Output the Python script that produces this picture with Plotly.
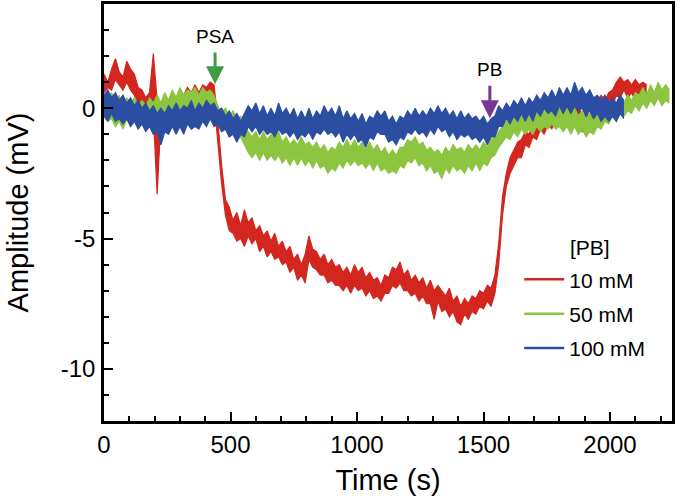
import plotly.graph_objects as go

T_STEP = 15

red_10mM_upper = [1.3, 1.0, 1.5, 1.9, 1.4, 1.2, 1.8, 1.5, 1.3, 0.8, 0.7, 0.4, 0.6, 2.1, 0.3,
                  0.2, 0.4, 0.2, 0.6, 0.4, 0.7, 0.5, 0.8, 0.6, 0.9, 0.6, 0.9, 0.8, 1.0, 0.9,
                  -0.5, -2.2, -3.5, -3.8, -4.3, -4.0, -4.5, -3.9, -4.4, -4.2, -4.7, -4.5, -4.9, -4.7, -5.1,
                  -4.8, -5.3, -5.1, -5.5, -5.3, -5.8, -5.6, -6.0, -5.6, -4.9, -5.4, -5.5, -5.8, -5.6, -6.0,
                  -5.8, -6.1, -6.0, -6.3, -6.1, -6.4, -6.0, -6.3, -6.1, -6.5, -6.3, -6.6, -6.5, -6.8, -6.4,
                  -6.5, -6.1, -6.2, -5.9, -6.4, -6.2, -6.6, -6.4, -6.7, -6.5, -6.9, -6.6, -7.0, -6.8, -7.0,
                  -7.2, -6.9, -7.4, -7.2, -7.6, -7.3, -7.5, -7.2, -7.3, -7.0, -7.1, -6.8, -6.9, -6.4, -5.2,
                  -3.4, -2.5, -1.9, -1.6, -1.3, -1.2, -0.9, -1.0, -0.6, -0.7, -0.3, -0.5, -0.1, -0.3, 0.1,
                  -0.1, 0.3, 0.1, 0.3, 0.0, 0.1, -0.3, -0.2, -0.3, 0.2, 0.3, 0.5, 0.3, 0.6, 0.7,
                  1.0, 1.2, 1.0, 1.1, 0.9, 1.1, 0.9, 1.0, 0.9]
red_10mM_lower = [0.6, 0.8, 0.7, 1.1, 0.9, 0.7, 1.0, 0.7, 0.5, 0.2, 0.2, -0.1, 0.0, -0.2, -3.3,
                  -0.4, -0.2, -0.4, -0.1, -0.3, 0.0, -0.2, 0.1, -0.1, 0.1, -0.1, 0.2, 0.3, 0.2, 0.3,
                  -1.3, -2.9, -4.1, -4.7, -4.8, -5.1, -5.0, -5.3, -4.9, -5.2, -5.0, -5.5, -5.3, -5.7, -5.5,
                  -5.8, -5.7, -6.0, -5.9, -6.3, -6.1, -6.6, -6.4, -6.7, -5.8, -6.1, -6.2, -6.4, -6.4, -6.7,
                  -6.6, -6.8, -6.8, -7.0, -6.8, -7.1, -6.8, -7.0, -6.9, -7.2, -7.0, -7.3, -7.2, -7.4, -7.1,
                  -7.1, -6.8, -6.9, -6.7, -7.0, -7.0, -7.2, -7.1, -7.4, -7.2, -7.5, -7.5, -8.1, -7.4, -7.8,
                  -7.7, -8.0, -7.8, -8.2, -8.3, -7.9, -8.1, -7.8, -7.9, -7.6, -7.7, -7.4, -7.6, -7.1, -6.0,
                  -4.1, -3.0, -2.5, -2.2, -1.9, -1.9, -1.4, -1.5, -1.1, -1.2, -0.8, -1.0, -0.6, -0.8, -0.4,
                  -0.6, -0.2, -0.4, -0.2, -0.5, -0.4, -0.9, -0.8, -0.9, -0.3, -0.3, 0.0, -0.1, 0.2, 0.1,
                  0.5, 0.4, 0.7, 0.4, 0.6, 0.3, 0.5, 0.3, 0.5]

green_50mM_upper = [0.5, 0.3, 0.6, 0.2, 0.5, 0.1, 0.4, 0.2, 0.4, 0.1, 0.3, 0.1, 0.4, 0.2, 0.5,
                    0.2, 0.6, 0.3, 0.7, 0.4, 0.8, 0.5, 0.7, 0.6, 0.8, 0.5, 0.8, 0.6, 0.7, 0.5,
                    0.1, -0.2, 0.0, -0.3, -0.1, -0.4, -0.3, -0.6, -0.9, -1.1, -0.9, -1.2, -0.9, -1.2, -1.0,
                    -1.1, -0.9, -1.3, -1.1, -1.4, -1.2, -1.4, -1.1, -1.4, -1.3, -1.5, -1.3, -1.6, -1.4, -1.7,
                    -1.5, -1.6, -1.3, -1.5, -1.2, -1.5, -1.2, -1.5, -1.3, -1.6, -1.3, -1.6, -1.4, -1.7, -1.5,
                    -1.8, -1.6, -1.8, -1.5, -1.5, -1.2, -1.3, -1.1, -1.4, -1.3, -1.6, -1.5, -1.7, -1.6, -1.8,
                    -1.5, -1.7, -1.4, -1.6, -1.5, -1.7, -1.4, -1.6, -1.4, -1.6, -1.3, -1.5, -1.2, -1.1, -0.9,
                    -0.7, -0.5, -0.6, -0.3, -0.5, -0.2, -0.4, -0.1, -0.4, -0.1, -0.3, 0.0, -0.2, 0.1, -0.2,
                    0.0, -0.3, 0.0, -0.3, 0.0, -0.3, -0.1, -0.4, -0.2, -0.3, 0.0, -0.1, 0.2, 0.0, 0.3,
                    0.1, 0.4, 0.2, 0.5, 0.3, 0.6, 0.5, 0.8, 0.5, 0.9, 0.6, 1.0, 0.7, 0.9, 0.7]
green_50mM_lower = [-0.3, -0.5, -0.4, -0.7, -0.5, -0.8, -0.4, -0.7, -0.4, -0.7, -0.4, -0.6, -0.3, -0.5, -0.2,
                    -0.5, -0.2, -0.4, -0.1, -0.3, 0.0, -0.3, 0.0, -0.2, 0.0, -0.3, -0.1, -0.2, -0.1, -0.3,
                    -0.6, -0.9, -0.8, -1.1, -0.9, -1.2, -1.1, -1.4, -1.7, -1.9, -1.7, -2.0, -1.7, -2.0, -1.8,
                    -2.0, -1.8, -2.1, -1.9, -2.2, -1.9, -2.2, -1.9, -2.2, -2.0, -2.3, -2.0, -2.3, -2.2, -2.5,
                    -2.3, -2.4, -2.1, -2.3, -2.0, -2.2, -2.0, -2.2, -2.1, -2.3, -2.1, -2.4, -2.1, -2.4, -2.3,
                    -2.5, -2.4, -2.5, -2.2, -2.3, -2.0, -2.1, -1.9, -2.2, -2.1, -2.4, -2.2, -2.5, -2.4, -2.7,
                    -2.3, -2.5, -2.2, -2.4, -2.3, -2.5, -2.2, -2.4, -2.1, -2.4, -2.1, -2.2, -1.9, -1.8, -1.5,
                    -1.3, -1.1, -1.2, -0.9, -1.1, -0.8, -1.0, -0.8, -1.0, -0.7, -0.9, -0.7, -0.8, -0.6, -0.8,
                    -0.7, -0.9, -0.7, -1.0, -0.7, -1.0, -0.8, -1.1, -0.9, -1.0, -0.7, -0.8, -0.5, -0.6, -0.3,
                    -0.5, -0.2, -0.3, -0.1, -0.2, 0.1, -0.1, 0.2, 0.0, 0.3, 0.1, 0.4, 0.1, 0.3, 0.2]

blue_100mM_upper = [0.5, 0.7, 0.4, 0.6, 0.3, 0.5, 0.2, 0.4, 0.1, 0.3, 0.0, 0.2, -0.1, 0.1, -0.2,
                    0.0, -0.2, 0.1, -0.1, 0.2, -0.1, 0.1, 0.0, 0.3, -0.1, 0.2, 0.0, 0.3, 0.1, 0.2,
                    -0.1, 0.0, -0.3, -0.1, -0.4, -0.2, -0.5, -0.2, 0.1, -0.1, 0.2, -0.2, 0.1, -0.3, 0.0,
                    -0.3, 0.2, -0.2, 0.0, -0.3, 0.0, -0.4, -0.1, -0.4, 0.0, -0.4, -0.1, -0.3, 0.1, -0.2,
                    0.0, -0.3, 0.1, -0.4, -0.1, -0.4, -0.2, -0.5, -0.2, -0.6, -0.3, -0.4, -0.1, -0.3, -0.1,
                    -0.5, -0.3, -0.6, -0.3, -0.4, -0.1, -0.3, 0.0, -0.3, -0.1, -0.3, 0.0, -0.2, 0.1, -0.2,
                    0.0, -0.3, -0.1, -0.4, -0.1, -0.4, -0.2, -0.4, -0.3, -0.5, -0.3, -0.6, -0.4, -0.3, 0.1,
                    -0.1, 0.2, 0.0, 0.3, 0.1, 0.4, 0.1, 0.4, 0.2, 0.5, 0.3, 0.6, 0.4, 0.7, 0.4,
                    0.8, 0.5, 0.8, 0.5, 1.0, 0.6, 0.8, 0.5, 0.7, 0.4, 0.5, 0.3, 0.5, 0.2, 0.4,
                    0.2, 0.5, 0.3]
blue_100mM_lower = [-0.3, -0.5, -0.2, -0.5, -0.4, -0.6, -0.4, -0.7, -0.5, -0.8, -0.6, -0.9, -0.7, -1.0, -0.9,
                    -1.4, -0.9, -1.0, -0.7, -1.0, -0.7, -1.0, -0.6, -0.8, -0.7, -0.8, -0.5, -0.7, -0.4, -0.7,
                    -0.6, -0.9, -0.8, -1.1, -1.0, -1.3, -1.0, -1.1, -0.7, -0.9, -0.7, -1.0, -0.8, -1.0, -0.9,
                    -1.1, -0.8, -1.0, -0.9, -1.1, -0.9, -1.2, -1.0, -1.1, -0.9, -1.2, -0.9, -1.0, -0.8, -1.0,
                    -0.9, -1.1, -0.9, -1.3, -1.0, -1.2, -1.0, -1.3, -1.2, -1.5, -1.1, -1.2, -0.9, -1.0, -1.0,
                    -1.3, -1.2, -1.4, -1.1, -1.2, -0.9, -1.0, -0.8, -1.0, -0.9, -1.1, -0.8, -1.0, -0.7, -0.9,
                    -0.8, -1.1, -0.9, -1.2, -1.0, -1.1, -1.0, -1.2, -1.1, -1.3, -1.1, -1.4, -1.1, -1.1, -0.7,
                    -0.7, -0.4, -0.6, -0.3, -0.5, -0.2, -0.5, -0.2, -0.5, -0.1, -0.3, 0.0, -0.2, -0.1, -0.3,
                    0.1, -0.2, 0.1, -0.2, 0.1, -0.1, 0.0, -0.3, -0.1, -0.4, -0.2, -0.5, -0.3, -0.5, -0.3,
                    -0.5, -0.2, -0.4]

series_names = ["10 mM", "50 mM", "100 mM"]
series_upper = [red_10mM_upper, green_50mM_upper, blue_100mM_upper]
series_lower = [red_10mM_lower, green_50mM_lower, blue_100mM_lower]
series_colors = ["#d3261f", "#8cc540", "#2b4ea3"]

x_tick_vals = [0, 500, 1000, 1500, 2000]
x_tick_text = ["0", "500", "1000", "1500", "2000"]
y_tick_vals = [0, -5, -10]
y_tick_text = ["0", "-5", "-10"]

psa_time, psa_tip, psa_tail = 439, 0.92, 2.2
pb_time, pb_tip, pb_tail = 1525, -0.38, 0.92

FONT = "Liberation Sans, Arial, sans-serif"

fig = go.Figure()
for name, up, lo, col in zip(series_names, series_upper, series_lower, series_colors):
    n = min(len(up), len(lo))
    t = [i * T_STEP for i in range(n)]
    fig.add_trace(go.Scatter(x=t, y=up[:n], mode="lines", line=dict(color=col, width=1.2),
                             showlegend=False, legendgroup=name, hoverinfo="skip"))
    fig.add_trace(go.Scatter(x=t, y=lo[:n], mode="lines", line=dict(color=col, width=1.2),
                             fill="tonexty", fillcolor=col,
                             showlegend=False, legendgroup=name, hoverinfo="skip"))
# legend entries (line samples)
for name, col in zip(series_names, series_colors):
    fig.add_trace(go.Scatter(x=[None], y=[None], mode="lines", name=name, legendgroup=name,
                             line=dict(color=col, width=2.5)))

axis_common = dict(showline=True, linecolor="black", linewidth=2.5, mirror=True,
                   ticks="inside", tickcolor="black", tickwidth=2, ticklen=9,
                   showgrid=False, zeroline=False, automargin=False,
                   tickfont=dict(family=FONT, size=24, color="black"))

fig.update_xaxes(range=[0, 2245], tickvals=x_tick_vals, ticktext=x_tick_text,
                 minor=dict(dtick=100, tick0=0, ticks="inside", ticklen=5, tickwidth=2,
                            tickcolor="black"),
                 title=dict(text="Time (s)", font=dict(family=FONT, size=29, color="black"),
                            standoff=14),
                 **axis_common)
fig.update_yaxes(range=[-12, 4], tickvals=y_tick_vals, ticktext=y_tick_text,
                 minor=dict(dtick=1, tick0=0, ticks="inside", ticklen=5, tickwidth=2,
                            tickcolor="black"),
                 title=dict(text="Amplitude (mV)", font=dict(family=FONT, size=29, color="black"),
                            standoff=24),
                 ticklabelstandoff=1,
                 **axis_common)

# arrows
fig.add_annotation(x=psa_time, y=psa_tip, ax=psa_time, ay=psa_tail, axref="x", ayref="y",
                   xref="x", yref="y", text="", showarrow=True, arrowhead=2, arrowsize=1.2,
                   arrowwidth=3, arrowcolor="#3f9c45")
fig.add_annotation(x=psa_time, y=psa_tail, xref="x", yref="y", text="PSA", showarrow=False,
                   yanchor="bottom", yshift=2, font=dict(family=FONT, size=19, color="black"))
fig.add_annotation(x=pb_time, y=pb_tip, ax=pb_time, ay=pb_tail, axref="x", ayref="y",
                   xref="x", yref="y", text="", showarrow=True, arrowhead=2, arrowsize=1.2,
                   arrowwidth=3, arrowcolor="#7a3596")
fig.add_annotation(x=pb_time, y=pb_tail, xref="x", yref="y", text="PB", showarrow=False,
                   yanchor="bottom", yshift=2, font=dict(family=FONT, size=19, color="black"))
fig.add_annotation(x=0.817, y=0.417, xref="paper", yref="paper", text="[PB]", showarrow=False,
                   xanchor="left", yanchor="middle", font=dict(family=FONT, size=21, color="black"))

fig.update_layout(
    width=677, height=502,
    margin=dict(l=104, r=5, t=4, b=81),
    plot_bgcolor="white", paper_bgcolor="white",
    font=dict(family=FONT, color="black"),
    legend=dict(x=0.731, y=0.388, xanchor="left", yanchor="top",
                bgcolor="rgba(0,0,0,0)", font=dict(family=FONT, size=21, color="black"),
                itemwidth=40, tracegroupgap=4),
    showlegend=True,
)

fig.write_html("out.html", config={"displayModeBar": False},
               post_script="document.body.style.margin='0px';document.body.style.overflow='hidden';")
